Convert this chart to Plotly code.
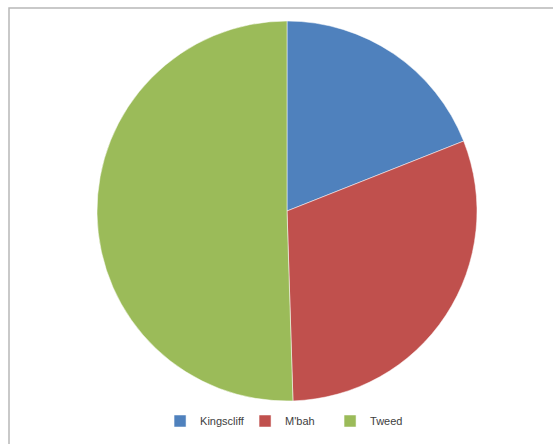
import plotly.graph_objects as go

labels = ["Kingscliff", "M'bah", "Tweed"]
values = [19.0, 30.5, 50.5]
colors = ["#4F81BD", "#C0504D", "#9BBB59"]

W, H = 553, 444
fig = go.Figure(go.Pie(
    labels=labels, values=values, sort=False, direction="clockwise", rotation=0,
    marker=dict(colors=colors, line=dict(color="white", width=0.5)),
    textinfo="none", hoverinfo="label+percent",
    domain=dict(x=[97/W, 477/W], y=[1-401/H, 1-21/H]),
))
fig.update_layout(
    width=W, height=H, margin=dict(l=0, r=0, t=0, b=0),
    paper_bgcolor="white", plot_bgcolor="white",
    showlegend=True,
    legend=dict(orientation="h", x=0.52, xanchor="center", y=1-421/H, yanchor="middle",
                font=dict(family="Liberation Sans, Arial", size=11, color="#404040"),
                itemwidth=30, entrywidth=40, entrywidthmode="pixels",
                traceorder="normal"),
    shapes=[dict(type="rect", xref="paper", yref="paper",
                 x0=9/W, y0=-0.1, x1=1.1, y1=1-8/H,
                 line=dict(color="#B8B8B8", width=1.5))],
)
fig.write_html("out.html")
